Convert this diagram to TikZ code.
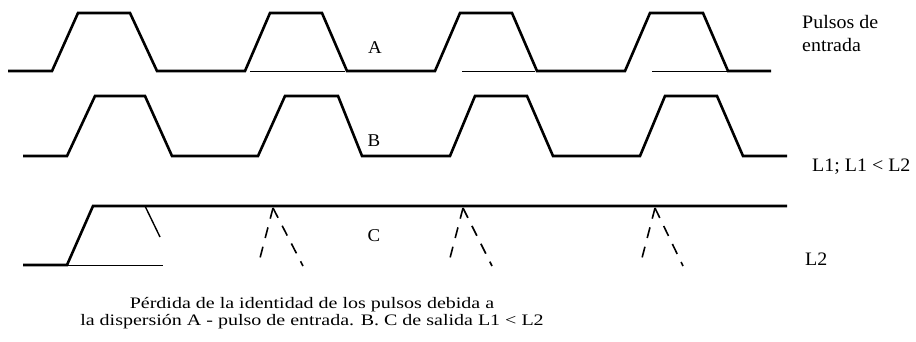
\documentclass[tikz,border=0pt]{standalone}
\usepackage{fontspec}
\setmainfont{Liberation Serif}[FakeStretch=1.05]
\newfontfamily\capfont{Liberation Serif}[FakeStretch=1.25]
\usepackage{tikz}

\begin{document}
\begin{tikzpicture}[
    x=1pt, y=-1pt,
    wave/.style={line width=2.6pt, line join=miter},
    thinbase/.style={line width=0.8pt},
    tail/.style={line width=1.4pt},
    spread/.style={line width=1.6pt, dash pattern=on 11pt off 9pt},
    letter/.style={font=\fontsize{18}{20}\selectfont},
    side/.style={font=\fontsize{19}{23}\selectfont, align=left, inner sep=0pt}
]
  \useasboundingbox (0,0) rectangle (916,341);

  % input pulses
  \draw[wave] (8,71) -- (52,71) -- (78,13) -- (130,13) -- (157,71) -- (245,71)
    -- (270,13) -- (322,13) -- (347,71) -- (435,71) -- (460,13) -- (512,13)
    -- (537,71) -- (625,71) -- (650,13) -- (703,13) -- (728,71) -- (771,71);
  \draw[thinbase] (250,71) -- (345,71);
  \draw[thinbase] (462,71) -- (535,71);
  \draw[thinbase] (652,71) -- (727,71);

  % output after L1
  \draw[wave] (23,156) -- (67,156) -- (95,96) -- (145,96) -- (172,156) -- (258,156)
    -- (285,96) -- (338,96) -- (362,156) -- (450,156) -- (475,96) -- (527,96)
    -- (553,156) -- (640,156) -- (665,96) -- (717,96) -- (743,156) -- (787,156);

  % output after L2
  \draw[wave] (23,265) -- (67,265) -- (93,206) -- (787,206);
  \draw[tail] (145,206) -- (160,237);
  \draw[thinbase] (67,265) -- (163,265);
  \draw[spread] (273,208) -- (260,258);
  \draw[spread] (273,208) -- (303,266);
  \draw[spread] (463,208) -- (450,258);
  \draw[spread] (463,208) -- (492,266);
  \draw[spread] (655,208) -- (642,258);
  \draw[spread] (655,208) -- (683,266);

  \node[letter] (A) at (375,48) {A};
  \node[letter] (B) at (374,141) {B};
  \node[letter] (C) at (374,236) {C};

  \node[side, anchor=base west] (inLbl) at (802,51) {Pulsos de\\entrada};
  \node[side, anchor=base west] (l1Lbl) at (812,171) {L1; L1 < L2};
  \node[side, anchor=base west] (l2Lbl) at (805,265) {L2};

  \node[font=\capfont\fontsize{16}{17}\selectfont, align=center, anchor=base] (caption) at (312,325)
    {Pérdida de la identidad de los pulsos debida a\\
     la dispersión A - pulso de entrada. B. C de salida L1 < L2};
\end{tikzpicture}
\end{document}
